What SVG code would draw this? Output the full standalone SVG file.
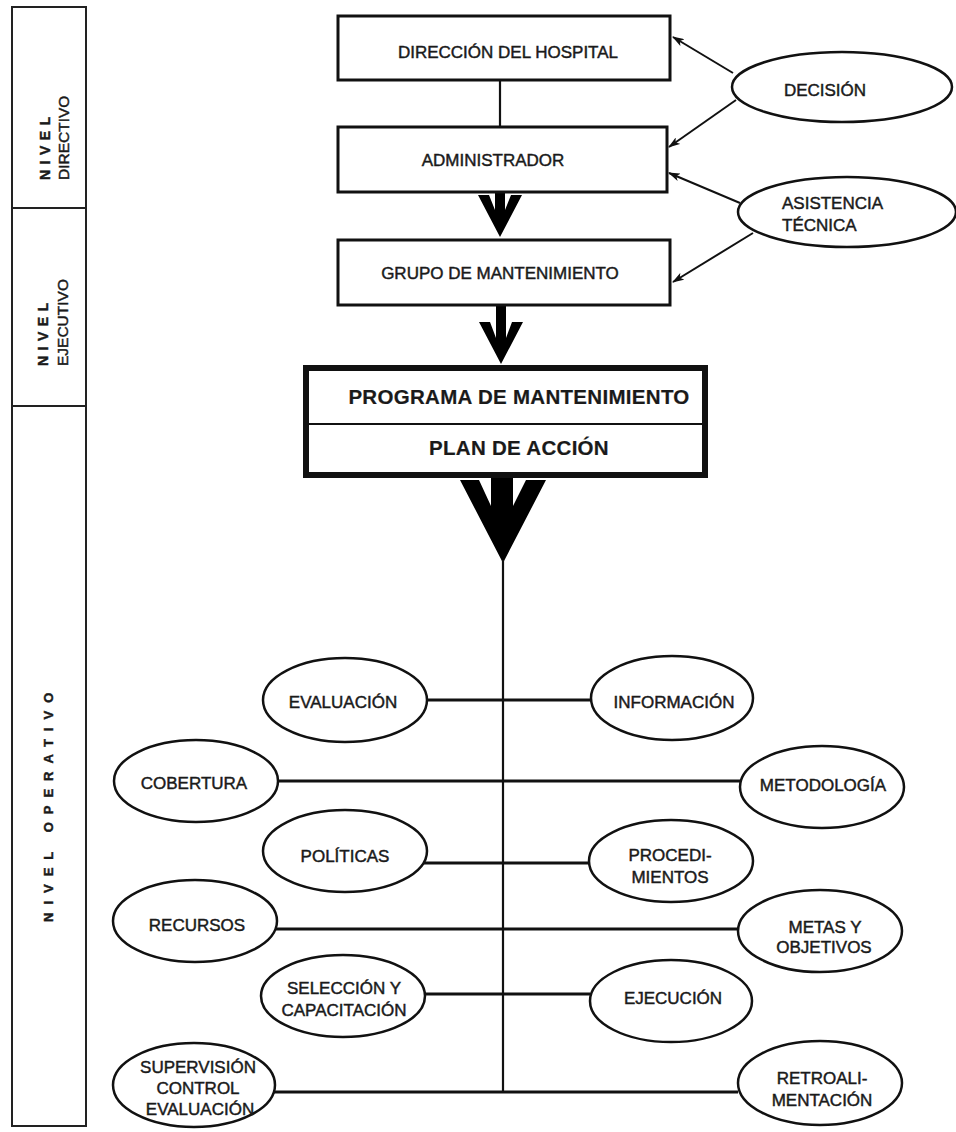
<svg xmlns="http://www.w3.org/2000/svg" width="956" height="1132" viewBox="0 0 956 1132">
  <defs>
    <marker id="head" viewBox="0 0 12 8" refX="11" refY="4" markerWidth="12" markerHeight="8" markerUnits="userSpaceOnUse" orient="auto">
      <path d="M0,0 L12,4 L0,8 L3,4 Z" fill="#111"/>
    </marker>
    <style>
      text { font-family: "Liberation Sans", Arial, sans-serif; fill: #1a1a1a; stroke: #1a1a1a; stroke-width: 0.45; }
      .box { fill: #fff; stroke: #111; stroke-width: 3; }
      .main { fill: #fff; stroke: #111; stroke-width: 6; }
      .oval { fill: #fff; stroke: #111; stroke-width: 2.5; }
      .lbl { font-size: 17px; text-anchor: middle; }
      .big { font-size: 20.5px; font-weight: bold; text-anchor: middle; letter-spacing: 0.3px; stroke-width: 0.2; }
      .side { fill: none; stroke: #222; stroke-width: 2; }
      .wire { fill: none; stroke: #111; stroke-width: 2.2; }
      .tie { fill: none; stroke: #111; stroke-width: 3; }
      .ptr { fill: none; stroke: #111; stroke-width: 2; marker-end: url(#head); }
      .fat { fill: #000; }
    </style>
  </defs>

  <!-- level band on the left -->
  <g id="levels">
    <rect class="side" x="12" y="7" width="74" height="1119"/>
    <line class="side" x1="12" y1="208" x2="86" y2="208"/>
    <line class="side" x1="12" y1="406" x2="86" y2="406"/>
    <g transform="translate(50,180) rotate(-90)">
      <text font-size="14" font-weight="bold" letter-spacing="5.5" stroke-width="0.2">NIVEL</text>
    </g>
    <g transform="translate(69,180) rotate(-90)">
      <text font-size="15.5">DIRECTIVO</text>
    </g>
    <g transform="translate(48,366) rotate(-90)">
      <text font-size="14" font-weight="bold" letter-spacing="5.5" stroke-width="0.2">NIVEL</text>
    </g>
    <g transform="translate(68,366) rotate(-90)">
      <text font-size="15.5">EJECUTIVO</text>
    </g>
    <g transform="translate(53,922) rotate(-90)">
      <text font-size="13" font-weight="bold" letter-spacing="8" stroke-width="0.2">NIVEL OPERATIVO</text>
    </g>
  </g>

  <!-- connectors -->
  <g id="connectors">
    <line class="wire" x1="500" y1="80" x2="500" y2="127"/>
    <polygon class="fat" points="495,192 505,192 505,210 511,195 522,195 500,237 478,195 489,195 495,210"/>
    <polygon class="fat" points="496,305 506,305 506,338 512,322 523,322 501,364 479,322 490,322 496,338"/>
    <polygon class="fat" points="491,478 513,478 513,506 526,480 546,480 503,563 460,480 479,480 491,506"/>

    <line class="ptr" x1="733" y1="73" x2="673" y2="37"/>
    <line class="ptr" x1="736" y1="100" x2="669" y2="147"/>
    <line class="ptr" x1="740" y1="203" x2="669" y2="173"/>
    <line class="ptr" x1="753" y1="233" x2="673" y2="282"/>

    <line class="wire" x1="503" y1="560" x2="503" y2="1093"/>
    <line class="tie" x1="427" y1="700" x2="592" y2="700"/>
    <line class="tie" x1="278" y1="781" x2="741" y2="781"/>
    <line class="tie" x1="423" y1="863" x2="591" y2="863"/>
    <line class="tie" x1="276" y1="929" x2="739" y2="929"/>
    <line class="tie" x1="424" y1="994" x2="590" y2="994"/>
    <line class="tie" x1="274" y1="1092" x2="738" y2="1092"/>
  </g>

  <!-- management chain -->
  <g id="direccion">
    <rect class="box" x="338" y="16" width="332" height="64"/>
    <text class="lbl" x="508" y="58">DIRECCIÓN DEL HOSPITAL</text>
  </g>
  <g id="administrador">
    <rect class="box" x="338" y="127" width="329" height="65"/>
    <text class="lbl" x="493" y="166">ADMINISTRADOR</text>
  </g>
  <g id="grupo">
    <rect class="box" x="338" y="240" width="332" height="65"/>
    <text class="lbl" x="500" y="279">GRUPO DE MANTENIMIENTO</text>
  </g>
  <g id="programa">
    <rect class="main" x="306" y="368" width="399" height="107"/>
    <line x1="306" y1="424" x2="705" y2="424" stroke="#111" stroke-width="2"/>
    <text class="big" x="519" y="404">PROGRAMA DE MANTENIMIENTO</text>
    <text class="big" x="519" y="455">PLAN DE ACCIÓN</text>
  </g>

  <!-- inputs on the right -->
  <g id="decision">
    <ellipse class="oval" cx="842" cy="87" rx="110" ry="35"/>
    <text class="lbl" x="825" y="96">DECISIÓN</text>
  </g>
  <g id="asistencia">
    <ellipse class="oval" cx="847" cy="212" rx="109" ry="35"/>
    <text font-size="17" x="782" y="209">ASISTENCIA</text>
    <text font-size="17" x="782" y="231">TÉCNICA</text>
  </g>

  <!-- operating components -->
  <g id="evaluacion">
    <ellipse class="oval" cx="345" cy="700" rx="82" ry="42"/>
    <text class="lbl" x="343" y="708">EVALUACIÓN</text>
  </g>
  <g id="informacion">
    <ellipse class="oval" cx="672" cy="698" rx="81" ry="42"/>
    <text class="lbl" x="674" y="708">INFORMACIÓN</text>
  </g>
  <g id="cobertura">
    <ellipse class="oval" cx="196" cy="781" rx="82" ry="41"/>
    <text class="lbl" x="194" y="789">COBERTURA</text>
  </g>
  <g id="metodologia">
    <ellipse class="oval" cx="822" cy="787" rx="82" ry="41"/>
    <text class="lbl" x="823" y="791">METODOLOGÍA</text>
  </g>
  <g id="politicas">
    <ellipse class="oval" cx="345" cy="851" rx="82" ry="41"/>
    <text class="lbl" x="345" y="862">POLÍTICAS</text>
  </g>
  <g id="procedimientos">
    <ellipse class="oval" cx="671" cy="861" rx="82" ry="41"/>
    <text class="lbl" x="670" y="861">PROCEDI-</text>
    <text class="lbl" x="670" y="883">MIENTOS</text>
  </g>
  <g id="recursos">
    <ellipse class="oval" cx="195" cy="921" rx="82" ry="41"/>
    <text class="lbl" x="197" y="931">RECURSOS</text>
  </g>
  <g id="metas">
    <ellipse class="oval" cx="820" cy="931" rx="82" ry="41"/>
    <text class="lbl" x="825" y="933">METAS Y</text>
    <text class="lbl" x="824" y="953">OBJETIVOS</text>
  </g>
  <g id="seleccion">
    <ellipse class="oval" cx="343" cy="996" rx="82" ry="41"/>
    <text class="lbl" x="344" y="994">SELECCIÓN Y</text>
    <text class="lbl" x="344" y="1016">CAPACITACIÓN</text>
  </g>
  <g id="ejecucion">
    <ellipse class="oval" cx="671" cy="1001" rx="81" ry="41"/>
    <text class="lbl" x="673" y="1004">EJECUCIÓN</text>
  </g>
  <g id="supervision">
    <ellipse class="oval" cx="194" cy="1085" rx="81" ry="42"/>
    <text class="lbl" x="198" y="1073">SUPERVISIÓN</text>
    <text class="lbl" x="198" y="1094">CONTROL</text>
    <text class="lbl" x="200" y="1115">EVALUACIÓN</text>
  </g>
  <g id="retroalimentacion">
    <ellipse class="oval" cx="820" cy="1083" rx="82" ry="42"/>
    <text class="lbl" x="822" y="1084">RETROALI-</text>
    <text class="lbl" x="822" y="1106">MENTACIÓN</text>
  </g>
</svg>
